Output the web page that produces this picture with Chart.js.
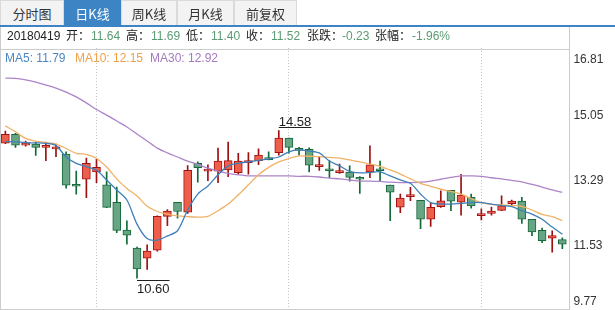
<!DOCTYPE html>
<html>
<head>
<meta charset="utf-8">
<script src="https://cdn.jsdelivr.net/npm/chart.js@4.4.1/dist/chart.umd.min.js"></script>
<style>
html, body { margin: 0; padding: 0; background: #fff; }
#wrap { position: relative; width: 615px; height: 310px; overflow: hidden; font-family: "Liberation Sans", "Noto Sans CJK SC", sans-serif; }
.tab { position: absolute; top: 0; height: 25px; line-height: 25px; background: #f3f3f3; border: 1px solid #dadada; border-bottom: none; box-sizing: border-box; text-align: center; font-size: 13px; color: #333; font-family: "Noto Sans CJK SC", sans-serif; }
.tab.on { background: #3c84c4; border-color: #3c84c4; color: #fff; }
#blue { position: absolute; left: 0; top: 25px; width: 615px; height: 2px; background: #3c84c4; }
#box { position: absolute; left: 0; top: 27px; width: 570px; height: 283px; border-left: 1px solid #ccc; border-right: 1px solid #ccc; border-bottom: 1px solid #ccc; box-sizing: border-box; }
#sep { position: absolute; left: 0; top: 49px; width: 570px; height: 1px; background: #ccc; }
.t { position: absolute; font-size: 12px; line-height: 14px; white-space: nowrap; color: #222; }
.g { color: #5a9b73; }
canvas { position: absolute; left: 0; top: 0; }
</style>
</head>
<body>
<div id="wrap">
  <div id="box"></div>
  <div id="sep"></div>
  <canvas id="kline" width="615" height="310"></canvas>
  <div class="tab" style="left:0;width:64px">分时图</div>
  <div class="tab on" style="left:64px;width:57px">日K线</div>
  <div class="tab" style="left:121px;width:56px">周K线</div>
  <div class="tab" style="left:177px;width:57px">月K线</div>
  <div class="tab" style="left:234px;width:63px">前复权</div>
  <div id="blue"></div>

  <div class="t" style="left:7px;top:29px">20180419</div>
  <div class="t" style="left:66px;top:29px">开：</div><div class="t g" style="left:91px;top:29px">11.64</div>
  <div class="t" style="left:126px;top:29px">高：</div><div class="t g" style="left:151px;top:29px">11.69</div>
  <div class="t" style="left:186px;top:29px">低：</div><div class="t g" style="left:211px;top:29px">11.40</div>
  <div class="t" style="left:246px;top:29px">收：</div><div class="t g" style="left:271px;top:29px">11.52</div>
  <div class="t" style="left:307px;top:29px">张跌：</div><div class="t g" style="left:342px;top:29px">-0.23</div>
  <div class="t" style="left:375px;top:29px">张幅：</div><div class="t g" style="left:412px;top:29px">-1.96%</div>

  <div class="t" style="left:5px;top:51px;color:#4a87c0">MA5: 11.79</div>
  <div class="t" style="left:75px;top:51px;color:#eea14a">MA10: 12.15</div>
  <div class="t" style="left:150px;top:51px;color:#a47ac0">MA30: 12.92</div>
</div>
<script>
// daily candles, oldest first (last one is 20180419)
const opens = [14.24,14.48,14.19,14.22,14.13,14.09,13.95,13.09,13.27,13.47,13.12,12.65,11.90,11.41,11.14,11.36,12.27,12.65,12.38,13.70,13.49,13.49,13.52,13.45,13.72,13.77,13.85,13.99,14.38,14.07,14.08,13.61,13.52,13.45,13.46,13.30,13.47,13.54,13.11,12.52,12.80,12.70,12.19,12.53,12.97,12.65,12.78,12.29,12.35,12.43,12.61,12.68,12.19,11.89,11.68,11.64];
const highs = [14.57,14.51,14.30,14.27,14.27,14.22,14.01,13.49,13.84,13.81,13.47,13.06,12.15,11.44,11.50,12.28,12.45,12.65,13.64,13.74,13.66,14.11,14.27,13.97,13.99,14.09,14.01,14.58,14.38,14.13,14.12,13.88,13.77,13.68,13.63,13.34,14.17,13.76,13.11,12.87,13.05,12.70,12.64,12.96,12.97,13.40,12.87,12.47,12.52,12.82,12.71,12.78,12.19,11.95,11.88,11.69];
const lows = [14.23,14.13,14.16,13.91,13.77,13.88,13.03,12.87,12.77,13.18,12.50,11.83,11.52,10.60,10.84,11.33,12.02,12.22,12.35,13.19,13.23,13.18,13.34,13.41,13.41,13.66,13.79,13.92,13.97,13.92,13.47,13.51,13.31,13.43,13.22,12.89,13.31,13.23,12.15,12.37,12.69,11.94,12.00,12.51,12.42,12.30,12.49,12.17,12.30,12.42,12.57,12.08,11.75,11.56,11.30,11.40];
const closes = [14.48,14.19,14.24,14.13,14.18,14.12,13.11,13.08,13.70,13.59,12.51,11.89,11.76,10.85,11.33,12.27,12.41,12.40,13.51,13.58,13.53,13.76,13.77,13.76,13.74,13.92,13.80,14.38,14.13,14.05,13.65,13.65,13.50,13.47,13.32,13.27,13.66,13.50,12.92,12.76,12.85,12.19,12.51,12.69,12.68,12.84,12.55,12.33,12.41,12.55,12.68,12.19,11.85,11.61,11.75,11.52];

const ma5 = [14.29,14.28,14.26,14.25,14.24,14.18,13.87,13.70,13.61,13.52,13.25,12.98,12.71,12.06,11.67,11.63,11.74,11.88,12.44,12.87,13.09,13.39,13.63,13.70,13.74,13.78,13.82,13.87,14.01,14.06,14.03,13.98,13.76,13.63,13.48,13.44,13.45,13.47,13.36,13.25,13.16,12.87,12.64,12.60,12.60,12.62,12.64,12.64,12.60,12.56,12.53,12.42,12.33,12.19,11.98,11.79];
const ma10 = [14.71,14.55,14.37,14.30,14.26,14.22,14.10,13.97,13.94,13.83,13.60,13.28,13.02,12.82,12.54,12.40,12.33,12.28,12.26,12.25,12.27,12.42,12.60,12.85,13.12,13.39,13.59,13.74,13.83,13.90,13.89,13.88,13.86,13.84,13.79,13.74,13.68,13.62,13.52,13.41,13.28,13.16,13.08,13.00,12.94,12.87,12.75,12.64,12.59,12.58,12.56,12.54,12.44,12.32,12.26,12.15];
const ma30 = [16.00,15.99,15.95,15.89,15.81,15.73,15.62,15.49,15.33,15.15,15.00,14.84,14.68,14.49,14.30,14.11,13.98,13.87,13.76,13.67,13.57,13.49,13.43,13.39,13.36,13.36,13.36,13.36,13.36,13.35,13.35,13.33,13.30,13.28,13.25,13.22,13.22,13.21,13.19,13.18,13.18,13.19,13.22,13.27,13.32,13.36,13.36,13.35,13.31,13.28,13.24,13.20,13.13,13.06,12.98,12.92];

const yTicks = [16.81, 15.05, 13.29, 11.53, 9.77];
const gridAt = [9, 28, 47];

const days = opens.map((o, i) => i + 1);
const isUp = i => closes[i] >= opens[i];

const priceLabels = {
  id: 'priceLabels',
  afterDraw(chart) {
    const { ctx, chartArea, scales: { y } } = chart;
    ctx.save();
    ctx.font = '12px "Liberation Sans"';
    ctx.fillStyle = '#333';
    ctx.textAlign = 'left';
    ctx.textBaseline = 'middle';
    yTicks.forEach(v => {
      let py = y.getPixelForValue(v) + 2;
      if (v === y.max) py += 10;
      if (v === y.min) py -= 9;
      ctx.fillText(v.toFixed(2), chartArea.right + 6, py);
    });
    ctx.restore();
  }
};

const extremes = {
  id: 'extremes',
  afterDatasetsDraw(chart) {
    const { ctx, scales: { x, y } } = chart;
    const hi = highs.indexOf(Math.max(...highs));
    const lo = lows.indexOf(Math.min(...lows));
    ctx.save();
    ctx.font = '13px "Liberation Sans"';
    ctx.fillStyle = '#222';
    ctx.textAlign = 'left';
    ctx.textBaseline = 'alphabetic';
    let px = x.getPixelForValue(hi), py = y.getPixelForValue(highs[hi]);
    let txt = highs[hi].toFixed(2), w = ctx.measureText(txt).width;
    ctx.fillText(txt, px, py - 5);
    ctx.fillRect(px, Math.round(py - 4), w, 1);
    px = x.getPixelForValue(lo); py = y.getPixelForValue(lows[lo]);
    txt = lows[lo].toFixed(2); w = ctx.measureText(txt).width;
    ctx.fillRect(px, Math.round(py + 2), w, 1);
    ctx.fillText(txt, px, py + 15);
    ctx.restore();
  }
};

const maLine = (data, color) => ({
  type: 'line', data: data, borderColor: color, borderWidth: 1.3,
  pointRadius: 0, tension: 0.3, order: 0
});

new Chart(document.getElementById('kline'), {
  type: 'bar',
  data: {
    labels: days,
    datasets: [
      maLine(ma5, '#3f7fb8'),
      maLine(ma10, '#f0b266'),
      maLine(ma30, '#ad84c8'),
      {
        data: opens.map((o, i) => [o, closes[i]]),
        backgroundColor: days.map((d, i) => isUp(i) ? '#ee5f4b' : '#68a584'),
        borderColor: days.map((d, i) => isUp(i) ? '#a31212' : '#17693b'),
        borderWidth: 1, borderSkipped: false,
        barThickness: 8, minBarLength: 2, grouped: false, order: 1
      },
      {
        data: lows.map((l, i) => [l, highs[i]]),
        backgroundColor: days.map((d, i) => isUp(i) ? '#9c1010' : '#0f6a35'),
        barThickness: 1, grouped: false, order: 2
      }
    ]
  },
  options: {
    responsive: false,
    animation: false,
    devicePixelRatio: 1,
    layout: { padding: { left: 0.3, right: 47.6, top: 48, bottom: 1 } },
    plugins: { legend: { display: false }, tooltip: { enabled: false } },
    scales: {
      x: {
        display: true,
        offset: true,
        ticks: { display: false },
        grid: {
          offset: false, drawTicks: false, lineWidth: 1,
          color: ctx => gridAt.includes(ctx.index) ? '#c4c4c4' : 'rgba(0,0,0,0)'
        },
        border: { display: false, dash: [1, 2] }
      },
      y: { display: false, min: 9.77, max: 16.81 }
    }
  },
  plugins: [priceLabels, extremes]
});
</script>
</body>
</html>
